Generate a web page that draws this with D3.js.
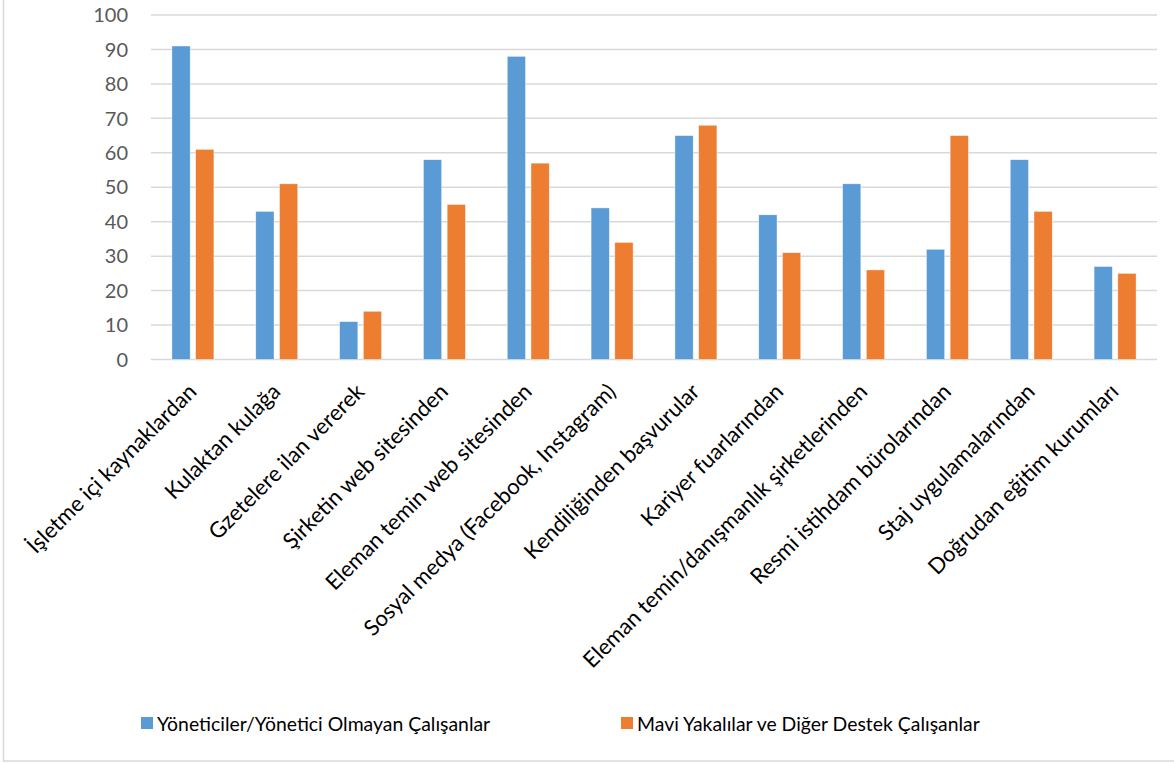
<!DOCTYPE html>
<html lang="tr">
<head>
<meta charset="utf-8">
<title>İşe alım kaynakları</title>
<script src="https://cdn.jsdelivr.net/npm/d3@7/dist/d3.min.js"></script>
<style>
  body { margin: 0; background: #fff; }
  text { font-family: Lato, "Open Sans", sans-serif; }
  .grid line { stroke: #d9d9d9; stroke-width: 1.5; }
  .ytick { fill: #595959; font-size: 20px; }
  .xlab { fill: #000; font-size: 22px; }
  .legend text { fill: #000; font-size: 19.4px; }
</style>
</head>
<body>
<script>
// chart data
var categories = [
  "İşletme içi kaynaklardan",
  "Kulaktan kulağa",
  "Gzetelere ilan vererek",
  "Şirketin web sitesinden",
  "Eleman temin web sitesinden",
  "Sosyal medya (Facebook, Instagram)",
  "Kendiliğinden başvurular",
  "Kariyer fuarlarından",
  "Eleman temin/danışmanlık şirketlerinden",
  "Resmi istihdam bürolarından",
  "Staj uygulamalarından",
  "Doğrudan eğitim kurumları"
];
var seriesNames = [
  "Yöneticiler/Yönetici Olmayan Çalışanlar",
  "Mavi Yakalılar ve Diğer Destek Çalışanlar"
];
var yoneticiler = [91, 43, 11, 58, 88, 44, 65, 42, 51, 32, 58, 27];
var maviYaka    = [61, 51, 14, 45, 57, 34, 68, 31, 26, 65, 43, 25];
var yTicks = [0, 10, 20, 30, 40, 50, 60, 70, 80, 90, 100];
var colors = ["#5b9bd5", "#ed7d31"];

var width = 1174, height = 763;
var plot = { left: 151, right: 1157, top: 15, bottom: 359.5 };

var svg = d3.select("body").append("svg")
  .attr("width", width)
  .attr("height", height);

svg.append("rect")
  .attr("width", width).attr("height", height)
  .attr("fill", "#fff");

// outer frame (only left and bottom edges show in the picture)
svg.append("rect")
  .attr("x", 3.5).attr("y", -20)
  .attr("width", 1300).attr("height", 781)
  .attr("fill", "none")
  .attr("stroke", "#d9d9d9")
  .attr("stroke-width", 1.5);

var x0 = d3.scaleBand()
  .domain(categories)
  .range([plot.left, plot.right])
  .padding(0);

var x1 = d3.scaleBand()
  .domain(seriesNames)
  .range([-21, 21])
  .paddingInner(0.23);

var y = d3.scaleLinear()
  .domain([0, 100])
  .range([plot.bottom, plot.top]);

// gridlines
svg.append("g").attr("class", "grid")
  .selectAll("line")
  .data(yTicks)
  .enter().append("line")
  .attr("x1", plot.left).attr("x2", plot.right)
  .attr("y1", function(d){ return y(d); })
  .attr("y2", function(d){ return y(d); });

// y labels
svg.append("g")
  .selectAll("text")
  .data(yTicks)
  .enter().append("text")
  .attr("class", "ytick")
  .attr("x", 128)
  .attr("y", function(d){ return y(d); })
  .attr("dy", "0.36em")
  .attr("text-anchor", "end")
  .text(function(d){ return d; });

// bars
var rows = categories.map(function(c, i){
  return { cat: c, values: [yoneticiler[i], maviYaka[i]] };
});

var groups = svg.append("g")
  .selectAll("g")
  .data(rows)
  .enter().append("g")
  .attr("transform", function(d){
    return "translate(" + (x0(d.cat) + x0.bandwidth() / 2) + ",0)";
  });

groups.selectAll("rect")
  .data(function(d){
    return d.values.map(function(v, j){ return { s: seriesNames[j], v: v, j: j }; });
  })
  .enter().append("rect")
  .attr("x", function(d){ return x1(d.s); })
  .attr("width", x1.bandwidth())
  .attr("y", function(d){ return y(d.v); })
  .attr("height", function(d){ return y(0) - y(d.v); })
  .attr("fill", function(d){ return colors[d.j]; })
  .attr("stroke", "#fff")
  .attr("stroke-width", 0.6)
  .attr("stroke-opacity", 0.7);

// rotated category labels
svg.append("g")
  .selectAll("text")
  .data(categories)
  .enter().append("text")
  .attr("class", "xlab")
  .attr("text-anchor", "end")
  .attr("transform", function(d){
    return "translate(" + (x0(d) + x0.bandwidth() / 2 + 5) + ",393) rotate(-45)";
  })
  .text(function(d){ return d; });

// legend
var legendX = [141, 621];
var legend = svg.append("g").attr("class", "legend")
  .selectAll("g")
  .data(seriesNames)
  .enter().append("g")
  .attr("transform", function(d, i){ return "translate(" + legendX[i] + ",717)"; });

legend.append("rect")
  .attr("width", 12).attr("height", 12)
  .attr("fill", function(d, i){ return colors[i]; });

legend.append("text")
  .attr("x", 16)
  .attr("y", 14)
  .text(function(d){ return d; });
</script>
</body>
</html>
